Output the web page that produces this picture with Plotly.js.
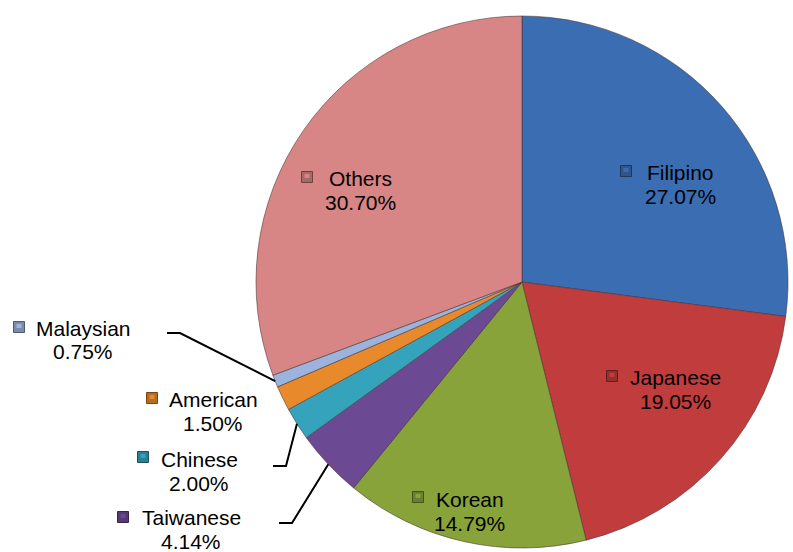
<!DOCTYPE html>
<html>
<head>
<meta charset="utf-8">
<script src="https://cdn.plot.ly/plotly-3.0.1.min.js"></script>
<style>html,body{margin:0;padding:0;background:#fff;}#chart{width:793px;height:552px;}</style>
</head>
<body>
<div id="chart"></div>
<script>
// ---- data ----
var categories = ["Filipino", "Japanese", "Korean", "Taiwanese", "Chinese", "American", "Malaysian", "Others"];
var shares = [27.07, 19.05, 14.79, 4.14, 2.00, 1.50, 0.75, 30.70];

// ---- styles / layout constants ----
var colors = ["#3b6db3", "#c13c3c", "#88a33a", "#6c4a93", "#36a3bd", "#e8892c", "#9bb3dd", "#d88585"];
var W = 793, H = 552;
var CX = 522, CY = 282, R = 266;
var FONT = { family: "Liberation Sans, Arial, sans-serif", size: 21, color: "#000" };
// label block centre (name line) in pixels, and marker centre
var labelPos = {
  Filipino: [680, 172], Japanese: [675, 377], Korean: [470, 499], Taiwanese: [191, 517],
  Chinese: [199, 459], American: [213, 399], Malaysian: [83, 328], Others: [360, 178]
};
var markerPos = {
  Filipino: [626, 171], Japanese: [612, 376], Korean: [418, 497], Taiwanese: [123, 517],
  Chinese: [143, 457], American: [152, 398], Malaysian: [19, 327], Others: [307, 177]
};
// leader line start points (label side) for outside labels
var leaderStart = {
  Malaysian: [[167, 333], [180, 333]],
  Chinese: [[273, 466], [286, 466]],
  Taiwanese: [[279, 523], [292, 523]]
};

function px(x) { return x / W; }
function py(y) { return 1 - y / H; }
function shade(hex, f) {
  var n = parseInt(hex.slice(1), 16);
  var r = Math.round(((n >> 16) & 255) * f), g = Math.round(((n >> 8) & 255) * f), b = Math.round((n & 255) * f);
  return "rgb(" + r + "," + g + "," + b + ")";
}

var annotations = [], shapes = [];
var total = shares.reduce(function (a, b) { return a + b; }, 0);
var cum = 0;
categories.forEach(function (c, i) {
  var mid = (cum + shares[i] / 2) / total * 2 * Math.PI;
  cum += shares[i];
  var lp = labelPos[c], mp = markerPos[c];
  annotations.push({
    xref: "paper", yref: "paper", x: px(lp[0]), y: py(lp[1]), xanchor: "center", yanchor: "middle",
    text: c, showarrow: false, font: FONT
  });
  annotations.push({
    xref: "paper", yref: "paper", x: px(lp[0]), y: py(lp[1] + 24), xanchor: "center", yanchor: "middle",
    text: shares[i].toFixed(2) + "%", showarrow: false, font: FONT
  });
  shapes.push({
    type: "rect", xref: "paper", yref: "paper",
    x0: px(mp[0] - 5.5), x1: px(mp[0] + 5.5), y0: py(mp[1] + 5.5), y1: py(mp[1] - 5.5),
    fillcolor: shade(colors[i], 0.78), line: { color: shade(colors[i], 0.5), width: 1 }
  });
  shapes.push({
    type: "rect", xref: "paper", yref: "paper",
    x0: px(mp[0] - 2.5), x1: px(mp[0] + 2.5), y0: py(mp[1] + 1), y1: py(mp[1] - 3),
    fillcolor: colors[i], line: { width: 0 }
  });
  if (leaderStart[c]) {
    var ex = CX + R * Math.sin(mid), ey = CY - R * Math.cos(mid);
    var pts = leaderStart[c].concat([[ex, ey]]);
    var path = pts.map(function (p, k) { return (k ? "L" : "M") + px(p[0]) + "," + py(p[1]); }).join(" ");
    shapes.push({ type: "path", xref: "paper", yref: "paper", path: path, line: { color: "#000", width: 2 } });
  }
});

var trace = {
  type: "pie",
  labels: categories,
  values: shares,
  sort: false,
  direction: "clockwise",
  rotation: 0,
  textinfo: "none",
  hoverinfo: "label+percent",
  marker: { colors: colors, line: { color: "rgba(70,50,50,0.55)", width: 1 } },
  domain: { x: [(CX - R) / W, (CX + R) / W], y: [(H - CY - R) / H, (H - CY + R) / H] },
  showlegend: false
};

var layout = {
  width: W, height: H,
  margin: { l: 0, r: 0, t: 0, b: 0 },
  paper_bgcolor: "#fff",
  showlegend: false,
  annotations: annotations,
  shapes: shapes
};

Plotly.newPlot("chart", [trace], layout, { displayModeBar: false, staticPlot: true });
</script>
</body>
</html>
